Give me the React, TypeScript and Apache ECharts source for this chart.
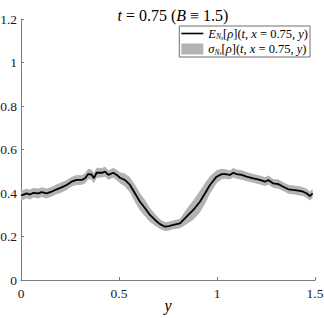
import React, { useEffect, useRef } from "react";
import * as echarts from "echarts";

const yPos = [
  0.0, 0.01, 0.029, 0.046, 0.063, 0.088, 0.105, 0.131, 0.156, 0.182, 0.207, 0.233, 0.258, 0.284,
  0.31, 0.327, 0.343, 0.36, 0.372, 0.386, 0.412, 0.429, 0.446, 0.471, 0.49, 0.505, 0.53, 0.556,
  0.582, 0.607, 0.633, 0.658, 0.684, 0.709, 0.735, 0.755, 0.777, 0.811, 0.845, 0.879, 0.913, 0.94,
  0.964, 0.998, 1.024, 1.041, 1.066, 1.083, 1.1, 1.126, 1.151, 1.185, 1.219, 1.245, 1.262, 1.287,
  1.313, 1.338, 1.364, 1.389, 1.415, 1.44, 1.458, 1.474, 1.488,
];
const meanVals = [
  0.39, 0.391, 0.398, 0.393, 0.401, 0.398, 0.404, 0.398, 0.406, 0.417, 0.426, 0.437, 0.452, 0.46,
  0.46, 0.468, 0.487, 0.485, 0.468, 0.493, 0.493, 0.498, 0.483, 0.493, 0.482, 0.47, 0.46, 0.437,
  0.398, 0.36, 0.33, 0.299, 0.276, 0.257, 0.245, 0.248, 0.253, 0.26, 0.291, 0.322, 0.36, 0.4,
  0.437, 0.475, 0.487, 0.487, 0.483, 0.493, 0.487, 0.483, 0.475, 0.467, 0.46, 0.452, 0.46, 0.444,
  0.441, 0.429, 0.417, 0.414, 0.411, 0.406, 0.398, 0.386, 0.398,
];
const stdVals = [
  0.023, 0.023, 0.022, 0.023, 0.022, 0.023, 0.022, 0.023, 0.022, 0.023, 0.024, 0.023, 0.022, 0.023,
  0.022, 0.023, 0.024, 0.023, 0.024, 0.023, 0.022, 0.023, 0.022, 0.023, 0.024, 0.025, 0.03, 0.035,
  0.04, 0.04, 0.038, 0.032, 0.027, 0.022, 0.02, 0.02, 0.02, 0.022, 0.035, 0.045, 0.05, 0.048,
  0.04, 0.03, 0.024, 0.022, 0.021, 0.022, 0.021, 0.022, 0.021, 0.02, 0.021, 0.02, 0.021, 0.02,
  0.021, 0.02, 0.021, 0.02, 0.021, 0.02, 0.021, 0.02, 0.021,
];

const FONT = "'Liberation Serif', 'DejaVu Serif', serif";

export default function App() {
  const ref = useRef<HTMLDivElement>(null);
  useEffect(() => {
    if (!ref.current) return;
    const chart = echarts.init(ref.current, null, { renderer: "svg" });
    const mean = yPos.map((x, i) => [x, meanVals[i]]);
    const bandData = yPos.map((x, i) => [x, meanVals[i] - stdVals[i], meanVals[i] + stdVals[i]]);
    const base = { fontFamily: FONT, color: "#000", fontWeight: "normal" as const };
    const legRich = {
      n: { ...base, fontSize: 12.5, lineHeight: 14 },
      i: { ...base, fontSize: 12.5, fontStyle: "italic", lineHeight: 14 },
      s: { ...base, fontSize: 7.5, fontStyle: "italic", lineHeight: 14, verticalAlign: "bottom", padding: [5, 0, 0, 0] },
      ss: { ...base, fontSize: 5.5, fontStyle: "italic", lineHeight: 14, verticalAlign: "bottom", padding: [7, 0, 0, 0] },
    };
    chart.setOption({
      animation: false,
      title: {
        text: "{i|t}{n| = 0.75 (}{i|B}{n| ≡ 1.5)}",
        left: 168,
        textAlign: "center",
        top: 2,
        textStyle: {
          fontWeight: "normal",
          rich: {
            n: { ...base, fontSize: 16 },
            i: { ...base, fontSize: 16, fontStyle: "italic" },
          },
        },
      },
      grid: { left: 21, right: 9, top: 19, bottom: 38, containLabel: false, outerBoundsMode: "none" },
      legend: {
        orient: "vertical",
        right: 14,
        top: 26,
        padding: [1, 2, 1, 2],
        itemGap: 2,
        itemWidth: 22,
        itemHeight: 11,
        borderColor: "#6e6e6e",
        borderWidth: 1,
        data: [
          { name: "mean", icon: "path://M0,0H22V1.6H0Z", itemStyle: { color: "#000" } },
          { name: "std", icon: "rect", itemStyle: { color: "#b3b3b3" } },
        ],
        formatter: (name: string) =>
          name === "mean"
            ? "{i|E}{s|N}{ss|s}{n|[}{i|ρ}{n|](}{i|t}{n|, }{i|x}{n| = 0.75, }{i|y}{n|)}"
            : "{i|σ}{s|N}{ss|s}{n|[}{i|ρ}{n|](}{i|t}{n|, }{i|x}{n| = 0.75, }{i|y}{n|)}",
        textStyle: { rich: legRich },
      },
      xAxis: {
        type: "value",
        min: 0,
        max: 1.5,
        interval: 0.5,
        name: "y",
        nameLocation: "middle",
        nameGap: 17,
        nameMoveOverlap: false,
        nameTextStyle: { ...base, fontSize: 16, fontStyle: "italic", verticalAlign: "top" },
        axisLine: { lineStyle: { color: "#7a7a7a", width: 1 } },
        axisTick: { inside: true, length: 3, lineStyle: { color: "#7a7a7a" } },
        axisLabel: { fontFamily: FONT, fontSize: 13.5, color: "#1a1a1a", margin: 6 },
        splitLine: { show: false },
      },
      yAxis: {
        type: "value",
        min: 0,
        max: 1.2,
        interval: 0.2,
        axisLine: { show: true, lineStyle: { color: "#7a7a7a", width: 1 } },
        axisTick: { show: true, inside: true, length: 3, lineStyle: { color: "#7a7a7a" } },
        axisLabel: { fontFamily: FONT, fontSize: 13.5, color: "#1a1a1a", margin: 4 },
        splitLine: { show: false },
      },
      series: [
        {
          name: "std",
          type: "custom",
          data: bandData,
          itemStyle: { color: "#b3b3b3" },
          silent: true,
          renderItem: (params: any, api: any) => {
            if (params.dataIndex !== 0) return null;
            const upper = bandData.map((d) => api.coord([d[0], d[2]]));
            const lower = bandData.map((d) => api.coord([d[0], d[1]])).reverse();
            return {
              type: "polygon",
              shape: { points: upper.concat(lower) },
              style: { fill: "#b3b3b3", stroke: "none" },
            };
          },
        },
        {
          name: "mean",
          type: "line",
          data: mean,
          symbol: "none",
          lineStyle: { color: "#000", width: 1.8 },
          itemStyle: { color: "#000" },
          z: 3,
        },
      ],
    });
    return () => chart.dispose();
  }, []);
  return (
    <div
      ref={ref}
      style={{ position: "absolute", left: 0, top: 0, width: 324, height: 318 }}
    />
  );
}
